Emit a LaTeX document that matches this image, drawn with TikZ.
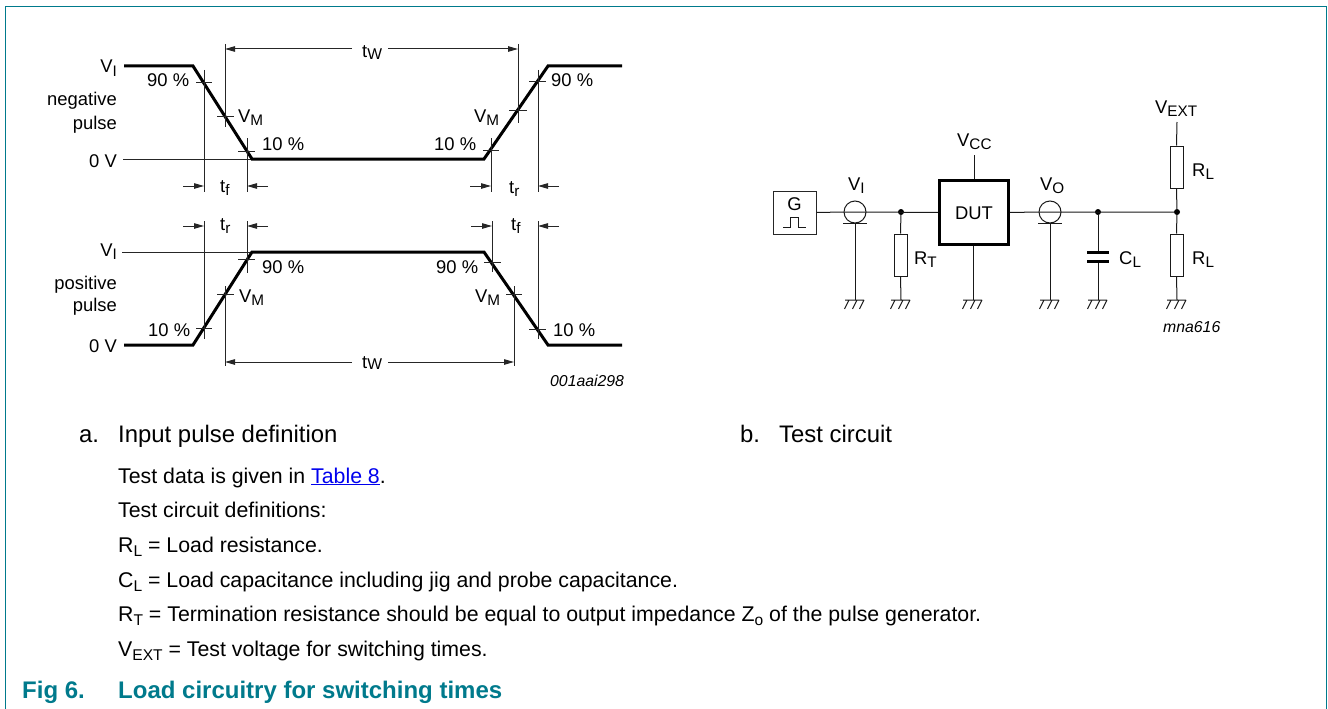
\documentclass[tikz,border=0pt]{standalone}
\usepackage{fontspec}
\setmainfont{Liberation Sans}
\usetikzlibrary{arrows.meta}
\definecolor{nxpteal}{RGB}{0,122,140}
\definecolor{linkblue}{RGB}{0,0,238}
\makeatletter
\newcommand\sbs[1]{\raisebox{-.19em}{\fontsize{\strip@pt\dimexpr.83\dimexpr\f@size pt\relax\relax}{1}\selectfont #1}}
\newcommand\sbw[1]{\raisebox{-.1em}{\fontsize{\strip@pt\dimexpr.85\dimexpr\f@size pt\relax\relax}{1}\selectfont #1}}
\newcommand\sbb[1]{\raisebox{-.19em}{\fontsize{\strip@pt\dimexpr.73\dimexpr\f@size pt\relax\relax}{1}\selectfont #1}}
\makeatother
\tikzset{
  lab/.style={inner sep=0pt,anchor=base west,font=\fontsize{18.4}{20}\selectfont},
  labr/.style={lab,anchor=base east},
  codetext/.style={lab,font=\fontsize{15.8}{18}\selectfont\itshape},
  captext/.style={lab,font=\fontsize{23.9}{28}\selectfont},
  bodytext/.style={lab,font=\fontsize{21.3}{24}\selectfont},
  figtext/.style={lab,text=nxpteal,font=\fontsize{24}{26}\selectfont\bfseries},
  thinline/.style={line width=1pt,black!85},
  pulseline/.style={line width=3pt,black},
  dimline/.style={line width=1pt,black!85,-{Triangle[length=10pt,width=5.5pt]}},
  wire/.style={line width=1pt,black!90},
  resbox/.style={draw,line width=1pt,draw=black!90,fill=white,inner sep=0pt,minimum width=13pt,minimum height=42pt},
  coax/.style={draw,circle,line width=1pt,draw=black!90,fill=none,inner sep=0pt,minimum size=22pt},
  junction/.style={circle,fill=black,inner sep=0pt,minimum size=6pt},
  gndsym/.pic={
    \draw[wire] (-10,0) -- (9,0)
      (-6,0) -- (-10.5,9) (2,0) -- (-2.5,9) (9,0) -- (4.5,9);
  }
}
\begin{document}
\begin{tikzpicture}[x=1pt,y=-1pt]
\useasboundingbox (0,0) rectangle (1328,709);
% frame
\draw[nxpteal,line width=1.3pt] (5.5,709) -- (5.5,6.5) -- (1326.5,6.5) -- (1326.5,709);

% ===== waveform: negative pulse
\draw[thinline] (123,159) -- (252,159);
\draw[pulseline] (124,66) -- (193,66) -- (252,159) -- (484,159) -- (548,66) -- (622,66);
\draw[thinline] (196,83) -- (212,83) (204,70) -- (204,192);
\draw[thinline] (217,116) -- (234,116) (225,44) -- (225,127);
\draw[thinline] (238,151) -- (255,151) (247,138) -- (247,192);
\draw[thinline] (483,150) -- (499,150) (491,138) -- (491,192);
\draw[thinline] (509,110) -- (527,110) (518,44) -- (518,123);
\draw[thinline] (529,82) -- (546,82) (538,70) -- (538,192);
\draw[dimline] (183,186) -- (204,186);
\draw[dimline] (268,186) -- (247,186);
\draw[dimline] (470,186) -- (491,186);
\draw[dimline] (559,186) -- (538,186);
\draw[dimline] (352,49) -- (225,49);
\draw[dimline] (388,49) -- (518,49);

% ===== waveform: positive pulse
\draw[thinline] (122,252) -- (252,252);
\draw[pulseline] (124,345) -- (193,345) -- (252,252) -- (484,252) -- (548,345) -- (622,345);
\draw[thinline] (196,328) -- (212,328) (204,221) -- (204,339);
\draw[thinline] (217,294) -- (234,294) (225,286) -- (225,366);
\draw[thinline] (238,259) -- (255,259) (247,221) -- (247,273);
\draw[thinline] (484,262) -- (501,262) (492,221) -- (492,272);
\draw[thinline] (506,294) -- (522,294) (514,286) -- (514,366);
\draw[thinline] (529,329) -- (546,329) (538,221) -- (538,339);
\draw[dimline] (183,226) -- (204,226);
\draw[dimline] (268,226) -- (247,226);
\draw[dimline] (471,226) -- (492,226);
\draw[dimline] (559,226) -- (538,226);
\draw[dimline] (352,362) -- (225,362);
\draw[dimline] (388,362) -- (514,362);

% ===== waveform labels
\node[labr] (a1) at (117,73) {V\sbs{I}};
\node[labr] (a2) at (117,106) {negative};
\node[labr] (a3) at (117,129) {pulse};
\node[labr] (a4) at (117,167) {0 V};
\node[lab] (a5) at (147,86) {90 \%};
\node[lab] (a6) at (238,122) {V\sbs{M}};
\node[lab] (a7) at (262,150) {10 \%};
\node[lab] (a8) at (362,58) {t\sbw{W}};
\node[lab] (a9) at (220,192) {t\sbs{f}};
\node[lab] (a10) at (509,193) {t\sbs{r}};
\node[lab] (a11) at (434,150) {10 \%};
\node[lab] (a12) at (474,122) {V\sbs{M}};
\node[lab] (a13) at (551,86) {90 \%};
\node[labr] (b1) at (117,256) {V\sbs{I}};
\node[labr] (b2) at (117,289) {positive};
\node[labr] (b3) at (117,311) {pulse};
\node[labr] (b4) at (117,352) {0 V};
\node[lab] (b5) at (220,230) {t\sbs{r}};
\node[lab] (b6) at (511,230) {t\sbs{f}};
\node[lab] (b7) at (262,273) {90 \%};
\node[lab] (b8) at (436,273) {90 \%};
\node[lab] (b9) at (239,302) {V\sbs{M}};
\node[lab] (b10) at (475,302) {V\sbs{M}};
\node[lab] (b11) at (148,336) {10 \%};
\node[lab] (b12) at (553,336) {10 \%};
\node[lab] (b13) at (362,368) {t\sbw{W}};
\node[codetext] (c1) at (550,386) {001aai298};

% ===== test circuit
\node[draw,line width=1pt,draw=black!85,minimum size=43pt,inner sep=0pt] (G) at (794.5,212.5) {};
\node[lab,anchor=base] (Gt) at (794.5,210) {G};
\draw[wire] (783,227) -- (790,227) -- (790,217) -- (798,217) -- (798,227) -- (806,227);
\node[draw,line width=2.6pt,minimum width=69pt,minimum height=64pt,inner sep=0pt] (DUT) at (974,212.5) {};
\node[lab,anchor=base] (DUTt) at (974,219) {DUT};
\node[coax] (C1) at (855,212) {};
\node[coax] (C2) at (1050,212) {};
\node[junction] (J1) at (901,212) {};
\node[junction] (J2) at (1098,212) {};
\node[junction] (J3) at (1177,212) {};
\node[resbox] (RT) at (900.5,255) {};
\node[resbox] (RL1) at (1176.5,167) {};
\node[resbox] (RL2) at (1176.5,255) {};
\coordinate (G1) at (855,300);
\coordinate (G2) at (901,300);
\coordinate (G3) at (973,300);
\coordinate (G4) at (1050,300);
\coordinate (G5) at (1098,300);
\coordinate (G6) at (1177,300);
\coordinate (Bar1) at (855,223);
\coordinate (Bar2) at (1050,223);
\coordinate (VCC) at (974,155);
\coordinate (VEXT) at (1177,122);
\coordinate (CapA) at (1098,252);
\coordinate (CapB) at (1098,261);
\draw[wire] (G.east) -- (C1.west) (C1.west) -- (C1.east) (C1.east) -- (DUT.west);
\draw[wire] (DUT.east) -- (C2.west) (C2.west) -- (C2.east) (C2.east) -- (J3);
\draw[wire] ([xshift=-12pt]Bar1) -- ([xshift=12pt]Bar1) (Bar1) -- (G1);
\draw[wire] ([xshift=-12pt]Bar2) -- ([xshift=12pt]Bar2) (Bar2) -- (G4);
\draw[wire] (J1) -- (RT.north) (RT.south) -- (G2);
\draw[wire] (VCC) -- (DUT.north);
\draw[wire] (DUT.south -| G3) -- (G3);
\draw[wire] (J2) -- (CapA) (CapB) -- (G5);
\draw[line width=3pt] ([xshift=-11pt]CapA) -- ([xshift=11pt]CapA) ([xshift=-11pt]CapB) -- ([xshift=11pt]CapB);
\draw[wire] (VEXT) -- (RL1.north) (RL1.south) -- (J3) -- (RL2.north) (RL2.south) -- (G6);
\foreach \g in {G1,G2,G3,G4,G5,G6} \pic at (\g) {gndsym};
\node[lab] (d1) at (848,190) {V\sbs{I}};
\node[lab] (d2) at (914,264) {R\sbs{T}};
\node[lab] (d3) at (957,146) {V\sbs{CC}};
\node[lab] (d4) at (1040,190) {V\sbs{O}};
\node[lab] (d5) at (1119,264) {C\sbs{L}};
\node[lab] (d6) at (1192,176) {R\sbs{L}};
\node[lab] (d7) at (1192,264) {R\sbs{L}};
\node[lab] (d8) at (1155,113) {V\sbs{EXT}};
\node[codetext] (d9) at (1163,332) {mna616};

% ===== captions
\node[captext] (e1) at (79,442) {a.};
\node[captext] (e2) at (118,442) {Input pulse definition};
\node[captext] (e3) at (740,442) {b.};
\node[captext] (e4) at (779,442) {Test circuit};
\node[bodytext] (f1) at (118,483) {Test data is given in {\color{linkblue}\underline{Table 8}}.};
\node[bodytext] (f2) at (118,517) {Test circuit definitions:};
\node[bodytext] (f3) at (118,552) {R\sbb{L} = Load resistance.};
\node[bodytext] (f4) at (118,587) {C\sbb{L} = Load capacitance including jig and probe capacitance.};
\node[bodytext] (f5) at (118,621) {R\sbb{T} = Termination resistance should be equal to output impedance Z\sbb{o} of the pulse generator.};
\node[bodytext] (f6) at (118,656) {V\sbb{EXT} = Test voltage for switching times.};
\node[figtext] (h1) at (22,698) {Fig 6.};
\node[figtext] (h2) at (118,698) {Load circuitry for switching times};
\end{tikzpicture}
\end{document}
